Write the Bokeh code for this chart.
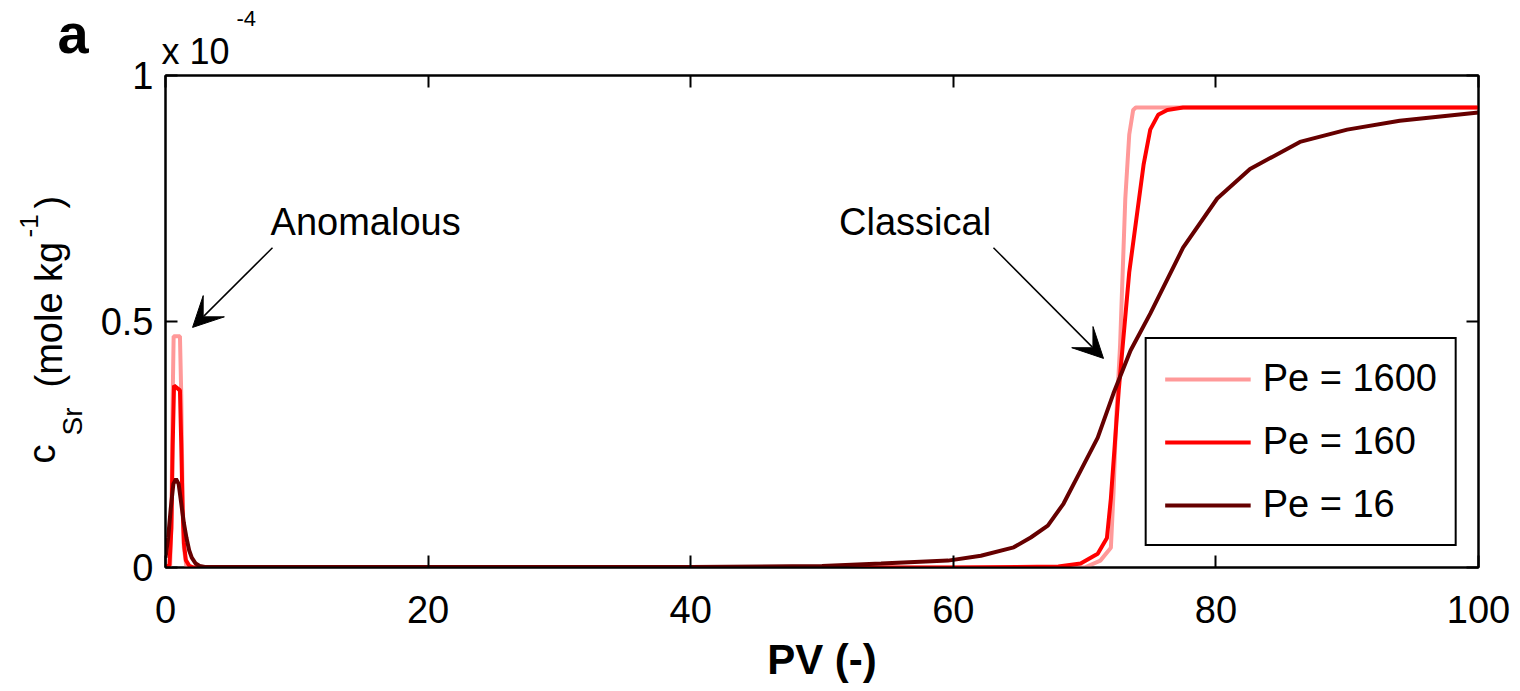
import math
from bokeh.plotting import figure
from bokeh.layouts import row, column
from bokeh.models import (Range1d, FixedTicker, LinearAxis, CustomJSTickFormatter, Legend,
                          LegendItem, Label, Arrow, VeeHead, ColumnDataSource, Title)
from bokeh.embed import file_html
from bokeh.resources import INLINE

# ---- data ----
pe1600_x = [0, 0.35, 0.45, 0.55, 0.62, 1.1, 1.2, 1.3, 1.4, 1.6, 3, 70, 71.2, 72.0, 72.2, 72.4,
            72.7, 72.9, 73.1, 73.4, 73.7, 73.9, 100]
pe1600_y = [0, 0, 0.1, 0.35, 0.47, 0.47, 0.35, 0.15, 0.04, 0, 0, 0, 0.014, 0.04, 0.15, 0.3,
            0.45, 0.6, 0.75, 0.88, 0.93, 0.935, 0.935]

pe160_x = [0, 0.3, 0.45, 0.55, 0.65, 1.1, 1.2, 1.3, 1.4, 1.55, 1.8, 2.1, 60, 68, 69.7, 71.0,
           71.7, 72.0, 72.3, 72.6, 73.0, 73.4, 74.0, 74.5, 75.0, 75.6, 76.3, 77.5, 100]
pe160_y = [0, 0.005, 0.08, 0.25, 0.37, 0.36, 0.25, 0.12, 0.05, 0.015, 0.004, 0, 0, 0.002, 0.008,
           0.028, 0.06, 0.14, 0.25, 0.36, 0.48, 0.6, 0.72, 0.82, 0.89, 0.92, 0.93, 0.935, 0.935]

pe16_x = [0, 0.2, 0.4, 0.6, 0.8, 1.0, 1.2, 1.4, 1.6, 1.8, 2.0, 2.3, 2.6, 3.0, 5, 40, 50, 54.5,
          59.6, 62.1, 64.6, 65.9, 67.2, 68.4, 69.7, 71.0, 72.2, 73.5, 75.0, 77.5, 80.1, 82.6,
          86.4, 90, 94, 100]
pe16_y = [0.02, 0.06, 0.12, 0.17, 0.18, 0.17, 0.13, 0.09, 0.06, 0.035, 0.02, 0.008, 0.003, 0.001,
          0.001, 0.001, 0.003, 0.008, 0.014, 0.024, 0.041, 0.061, 0.085, 0.13, 0.197, 0.264,
          0.354, 0.441, 0.516, 0.65, 0.75, 0.81, 0.865, 0.89, 0.908, 0.925]

series_labels = ["Pe = 1600", "Pe = 160", "Pe = 16"]
series_colors = ["#FF9999", "#FF0000", "#660000"]
x_ticks = [0, 20, 40, 60, 80, 100]
y_ticks = [0, 0.5, 1]

FONT = "Liberation Sans"
W, H = 1520, 691
LEFT_W = 95          # strip holding the panel letter and the y-axis title
MAIN_W = W - LEFT_W

# ---------------- main plot ----------------
p = figure(width=MAIN_W, height=H, output_backend="svg", toolbar_location=None,
           x_range=Range1d(0, 100), y_range=Range1d(0, 1),
           min_border_left=165 - LEFT_W, min_border_right=42, min_border_top=75,
           min_border_bottom=124, margin=(0, 0, 0, 0))
p.background_fill_color = "white"
p.border_fill_color = "white"
p.grid.visible = False
p.outline_line_color = "black"
p.outline_line_width = 2
p.outline_line_alpha = 1

renderers = []
for xs, ys, c in [(pe1600_x, pe1600_y, series_colors[0]),
                  (pe160_x, pe160_y, series_colors[1]),
                  (pe16_x, pe16_y, series_colors[2])]:
    src = ColumnDataSource(dict(x=xs, y=ys))
    r = p.line("x", "y", source=src, line_color=c, line_width=4)
    renderers.append(r)

def style_axis(ax, ticks, show_labels=True):
    ax.ticker = FixedTicker(ticks=ticks)
    ax.major_tick_in = 12
    ax.major_tick_out = 0
    ax.minor_tick_line_color = None
    ax.axis_line_color = "black"
    ax.axis_line_width = 2
    ax.major_tick_line_color = "black"
    ax.major_tick_line_width = 2
    ax.major_label_text_font = FONT
    ax.major_label_text_color = "black"
    if show_labels:
        ax.major_label_text_font_size = "38px"
        ax.formatter = CustomJSTickFormatter(code="return tick == 0.5 ? '0.5' : tick.toFixed(0);")
    else:
        ax.major_label_text_font_size = "0px"
        ax.major_label_standoff = 0
        ax.formatter = CustomJSTickFormatter(code="return '';")

style_axis(p.xaxis[0], x_ticks)
style_axis(p.yaxis[0], y_ticks)
p.xaxis[0].major_label_standoff = 28
p.yaxis[0].major_label_standoff = 12
p.xaxis[0].axis_label = "PV (-)"
p.xaxis[0].axis_label_text_font = FONT
p.xaxis[0].axis_label_text_font_style = "bold"
p.xaxis[0].axis_label_text_font_size = "42px"
p.xaxis[0].axis_label_text_color = "black"
p.xaxis[0].axis_label_standoff = 10

ax_r = LinearAxis()
style_axis(ax_r, y_ticks, show_labels=False)
p.add_layout(ax_r, "right")
ax_t = LinearAxis()
style_axis(ax_t, x_ticks, show_labels=False)
p.add_layout(ax_t, "above")

# axis multiplier "x 10^-4" as titles stacked above the frame
p.add_layout(Title(text="x 10", align="left", offset=-4, standoff=7, text_font=FONT,
                   text_font_size="36px", text_font_style="normal", text_color="black",
                   vertical_align="bottom"), "above")
p.add_layout(Title(text="-4", align="left", offset=71, standoff=0, text_font=FONT,
                   text_font_size="22px", text_font_style="normal", text_color="black",
                   vertical_align="bottom"), "above")

legend = Legend(items=[LegendItem(label=series_labels[i], renderers=[renderers[i]]) for i in range(3)],
                location="bottom_right", margin=21, padding=18, spacing=20,
                glyph_width=86, glyph_height=40, label_standoff=12,
                label_text_font=FONT, label_text_font_size="38px", label_text_color="black",
                border_line_color="black", border_line_width=2, border_line_alpha=1,
                background_fill_color="white", background_fill_alpha=1)
p.add_layout(legend, "center")

def mid_y_data(py_base, fs):
    # canvas baseline pixel -> data y of the text middle
    return (567 - (py_base - 0.35 * fs)) / 492.0

p.add_layout(Label(x=8.0, y=mid_y_data(235, 38), text="Anomalous", text_font=FONT,
                   text_font_size="38px", text_color="black", text_baseline="middle",
                   text_align="left"))
p.add_layout(Label(x=51.3, y=mid_y_data(235, 38), text="Classical", text_font=FONT,
                   text_font_size="38px", text_color="black", text_baseline="middle",
                   text_align="left"))
p.add_layout(Arrow(x_start=8.15, y_start=0.650, x_end=2.06, y_end=0.488, line_width=1.5,
                   line_color="black",
                   end=VeeHead(size=30, fill_color="black", fill_alpha=1, line_color="black",
                               line_width=1)))
p.add_layout(Arrow(x_start=63.06, y_start=0.650, x_end=71.44, y_end=0.425, line_width=1.5,
                   line_color="black",
                   end=VeeHead(size=30, fill_color="black", fill_alpha=1, line_color="black",
                               line_width=1)))

# ---------------- left strip (panel letter and y-axis title) ----------------
left = figure(width=LEFT_W, height=H, output_backend="svg", toolbar_location=None,
              x_range=Range1d(0, LEFT_W), y_range=Range1d(0, H), x_axis_type=None,
              y_axis_type=None, min_border=0, margin=(0, 0, 0, 0))
left.grid.visible = False
left.outline_line_color = None
left.background_fill_color = "white"
left.border_fill_color = "white"

def put(txt, px, py_base, fs, angle=0.0, bold=False):
    if angle == 0.0:
        x = px
        y = H - (py_base - 0.35 * fs)
    else:
        x = px - 0.35 * fs
        y = H - py_base
    left.add_layout(Label(x=x, y=y, text=txt, angle=angle, text_font=FONT,
                          text_font_size="%dpx" % fs, text_color="black",
                          text_font_style="bold" if bold else "normal",
                          text_baseline="middle", text_align="left"))

put("a", 57, 53, 56, bold=True)
rot = math.pi / 2
put("c", 55, 463, 38, rot)
put("Sr", 82, 435, 28, rot)
put("(mole kg", 62, 387, 38, rot)
put("-1", 38, 237, 26, rot)
put(")", 62, 208, 38, rot)

layout = row(left, column(p, spacing=0), spacing=0)
open("out.html", "w").write(file_html(layout, INLINE))
